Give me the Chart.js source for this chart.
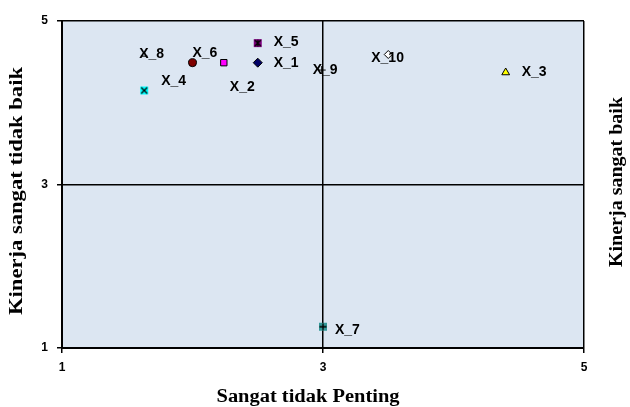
<!DOCTYPE html>
<html>
<head>
<meta charset="utf-8">
<script src="https://cdn.jsdelivr.net/npm/chart.js@4"></script>
<style>
    html, body { margin: 0; padding: 0; background: #ffffff; }
    #wrap { width: 630px; height: 407px; }
</style>
</head>
<body>
<div id="wrap"><canvas id="chart-kuadran" width="630" height="407"></canvas></div>
<script>
// data
const namaAtribut = ["X_1", "X_2", "X_3", "X_4", "X_5", "X_6", "X_7", "X_8", "X_9", "X_10"];
const nilaiPenting = [2.50, 2.24, 4.40, 1.63, 2.50, 2.00, 3.00, 1.63, 2.99, 3.50];
const nilaiKinerja = [4.49, 4.49, 4.37, 4.15, 4.73, 4.49, 1.26, 4.57, 4.40, 4.59];
const tickNilai = [1, 3, 5];

const judulX = "Sangat tidak Penting";
const judulYKiri = "Kinerja sangat tidak baik";
const judulYKanan = "Kinerja sangat baik";

// marker gabungan (kotak + garis) dibuat di canvas kecil
function buatMarker(fill, gambarGaris) {
    const c = document.createElement("canvas");
    c.width = 10;
    c.height = 10;
    const g = c.getContext("2d");
    g.fillStyle = fill;
    g.fillRect(1, 1, 8, 8);
    g.strokeStyle = "#000000";
    g.lineWidth = 1.3;
    g.beginPath();
    gambarGaris(g);
    g.stroke();
    return c;
}
const garisX = (g) => { g.moveTo(2, 2); g.lineTo(8, 8); g.moveTo(8, 2); g.lineTo(2, 8); };
const garisPlus = (g) => { g.moveTo(5, 1.5); g.lineTo(5, 8.5); g.moveTo(1.5, 5); g.lineTo(8.5, 5); };
const garisBintang = (g) => { garisX(g); g.moveTo(5, 1.5); g.lineTo(5, 8.5); };

const gayaMarker = [
    { style: "rectRot", r: 4.5, bg: "#000066", bd: "#000000" },
    { style: "rect", r: 4.5, bg: "#ff00ff", bd: "#000000" },
    { style: "triangle", r: 4.5, bg: "#ffff00", bd: "#000000" },
    { style: buatMarker("#00ffff", garisX), r: 5, bg: "#00ffff", bd: "#000000" },
    { style: buatMarker("#800080", garisBintang), r: 5, bg: "#800080", bd: "#000000" },
    { style: "circle", r: 4, bg: "#800000", bd: "#000000" },
    { style: buatMarker("#339999", garisPlus), r: 5, bg: "#339999", bd: "#000000" },
    { style: "line", r: 3.5, bg: "#000000", bd: "#000000" },
    { style: "cross", r: 4, bg: "#000000", bd: "#000000" },
    { style: "rectRot", r: 4, bg: "#ffffff", bd: "#000000" },
];
// geser label [dx, dy] dari titik
const geserLabel = [[16, 0], [6, 24], [16, 0], [17, -9], [16, -1], [0, -10], [12, 3], [-5, -2], [-9, 0], [-17, 4]];

const datasets = namaAtribut.map((nama, i) => ({
    label: nama,
    data: [{ x: nilaiPenting[i], y: nilaiKinerja[i] }],
    pointStyle: gayaMarker[i].style,
    pointRadius: gayaMarker[i].r,
    pointHoverRadius: gayaMarker[i].r,
    backgroundColor: gayaMarker[i].bg,
    borderColor: gayaMarker[i].bd,
    borderWidth: 1,
}));

const latarArea = {
    id: "latarArea",
    beforeDraw(chart) {
        const { ctx, chartArea: a } = chart;
        ctx.save();
        ctx.fillStyle = "#dce6f2";
        ctx.fillRect(a.left, a.top, a.right - a.left, a.bottom - a.top);
        ctx.restore();
    },
};

const labelTitik = {
    id: "labelTitik",
    afterDatasetsDraw(chart) {
        const ctx = chart.ctx;
        ctx.save();
        ctx.font = "bold 14px 'Liberation Sans', Arial, sans-serif";
        ctx.fillStyle = "#000000";
        ctx.textAlign = "left";
        ctx.textBaseline = "middle";
        chart.data.datasets.forEach((ds, i) => {
            const p = chart.getDatasetMeta(i).data[0];
            ctx.fillText(ds.label, p.x + geserLabel[i][0], p.y + geserLabel[i][1]);
        });
        ctx.restore();
    },
};

// judul sumbu digambar sendiri supaya lebar teksnya bisa disamakan
function tulisJudul(ctx, teks, font, cx, cy, rot, panjang) {
    ctx.save();
    ctx.translate(cx, cy);
    ctx.rotate(rot);
    ctx.font = font;
    const w = ctx.measureText(teks).width;
    ctx.scale(panjang / w, 1);
    ctx.fillStyle = "#000000";
    ctx.textAlign = "center";
    ctx.textBaseline = "middle";
    ctx.fillText(teks, 0, 0);
    ctx.restore();
}

const judulSumbu = {
    id: "judulSumbu",
    afterDraw(chart) {
        const ctx = chart.ctx;
        const serif = "'Liberation Serif', 'Times New Roman', serif";
        tulisJudul(ctx, judulX, "bold 18px " + serif, 308, 397, 0, 183);
        tulisJudul(ctx, judulYKiri, "bold 18px " + serif, 17, 191, -Math.PI / 2, 248);
        tulisJudul(ctx, judulYKanan, "bold 18px " + serif, 617, 182, -Math.PI / 2, 170);
    },
};

const fontTick = { family: "'Liberation Sans', Arial, sans-serif", size: 12, weight: "bold" };

new Chart(document.getElementById("chart-kuadran"), {
    type: "scatter",
    data: { datasets: datasets },
    options: {
        responsive: false,
        animation: false,
        layout: { padding: { top: 21, right: 46, left: 0, bottom: 0 } },
        plugins: {
            legend: { display: false },
            tooltip: { enabled: false },
        },
        scales: {
            x: {
                min: 1,
                max: 5,
                afterBuildTicks: (scale) => { scale.ticks = tickNilai.map((v) => ({ value: v })); },
                afterFit: (scale) => { scale.height = 59; },
                ticks: { color: "#000000", font: fontTick, padding: 7, maxRotation: 0 },
                grid: { color: "#000000", lineWidth: 1.5, tickLength: 5 },
                border: { display: true, color: "#000000", width: 2 },
            },
            y: {
                min: 1,
                max: 5,
                afterBuildTicks: (scale) => { scale.ticks = tickNilai.map((v) => ({ value: v })); },
                afterFit: (scale) => { scale.width = 62; },
                ticks: { color: "#000000", font: fontTick, padding: 9 },
                grid: { color: "#000000", lineWidth: 1.5, tickLength: 5 },
                border: { display: true, color: "#000000", width: 2 },
            },
        },
    },
    plugins: [latarArea, labelTitik, judulSumbu],
});
</script>
</body>
</html>
